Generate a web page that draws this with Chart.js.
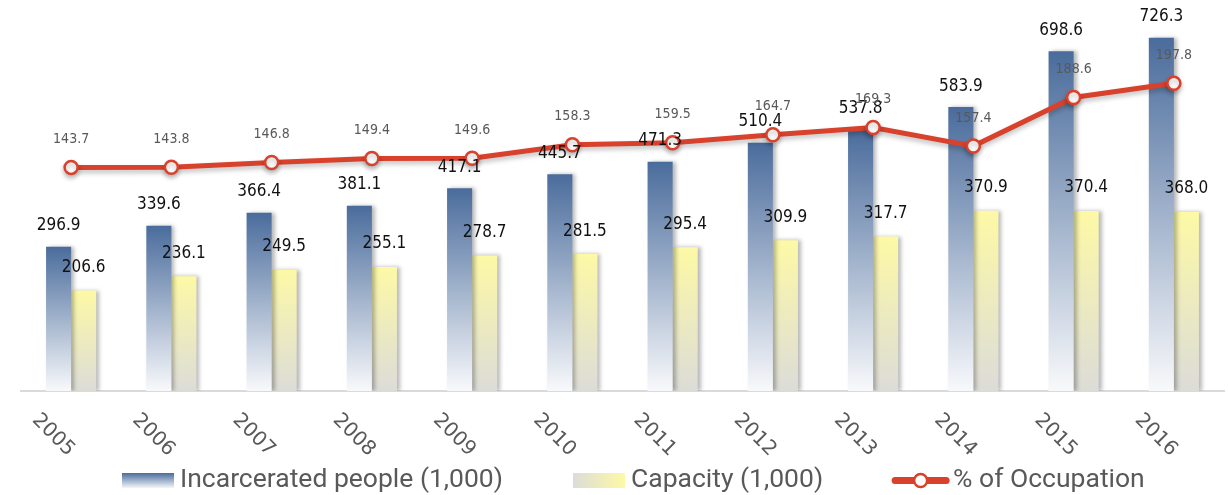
<!DOCTYPE html>
<html>
<head>
<meta charset="utf-8">
<script src="https://cdn.jsdelivr.net/npm/chart.js@4"></script>
<style>
  html, body { margin: 0; padding: 0; background: #fff; }
  #wrap { width: 1228px; height: 495px; }
</style>
</head>
<body>
<div id="wrap"><canvas id="prisonChart" width="1228" height="495"></canvas></div>
<script>
const years = ['2005', '2006', '2007', '2008', '2009', '2010', '2011', '2012', '2013', '2014', '2015', '2016'];
const incarcerated = [296.9, 339.6, 366.4, 381.1, 417.1, 445.7, 471.3, 510.4, 537.8, 583.9, 698.6, 726.3];
const capacity = [206.6, 236.1, 249.5, 255.1, 278.7, 281.5, 295.4, 309.9, 317.7, 370.9, 370.4, 368.0];
const occupation = [143.7, 143.8, 146.8, 149.4, 149.6, 158.3, 159.5, 164.7, 169.3, 157.4, 188.6, 197.8];

const seriesNames = ['Incarcerated people (1,000)', 'Capacity (1,000)', '% of Occupation'];

const lineRed = '#d8412c';
const textGrey = '#595959';
const labelFont = '"DejaVu Sans"';

// vertical gradient from the top of each bar down to the baseline
function barGradient(top, bottom) {
    return function(ctx) {
        const chart = ctx.chart;
        if (!chart.chartArea || ctx.raw === undefined) return top;
        const y = chart.scales.y;
        const y0 = y.getPixelForValue(ctx.raw);
        const y1 = y.getPixelForValue(0);
        const g = chart.ctx.createLinearGradient(0, y0, 0, y1);
        g.addColorStop(0, top);
        g.addColorStop(1, bottom);
        return g;
    };
}

const shadowPlugin = {
    id: 'shadows',
    beforeDatasetDraw(chart, args) {
        const ctx = chart.ctx;
        ctx.save();
        if (args.meta.type === 'line') {
            ctx.shadowColor = 'rgba(0,0,0,0.25)';
            ctx.shadowBlur = 5;
            ctx.shadowOffsetX = 0;
            ctx.shadowOffsetY = 3;
        } else {
            ctx.shadowColor = 'rgba(0,0,0,0.28)';
            ctx.shadowBlur = 4;
            ctx.shadowOffsetX = 3;
            ctx.shadowOffsetY = 0;
        }
    },
    afterDatasetDraw(chart) {
        chart.ctx.restore();
    }
};

const valueLabels = {
    id: 'valueLabels',
    afterDatasetsDraw(chart) {
        const ctx = chart.ctx;
        ctx.save();
        ctx.textAlign = 'center';
        ctx.textBaseline = 'middle';
        chart.data.datasets.forEach((ds, i) => {
            const meta = chart.getDatasetMeta(i);
            meta.data.forEach((el, j) => {
                const v = ds.data[j];
                if (meta.type === 'line') {
                    ctx.font = 'condensed 14px ' + labelFont;
                    ctx.fillStyle = textGrey;
                    ctx.fillText(v.toFixed(1), el.x, el.y - 28);
                } else {
                    ctx.font = 'condensed 17px ' + labelFont;
                    ctx.fillStyle = '#111';
                    ctx.fillText(v.toFixed(1), el.x, el.y - (i === 0 ? 21 : 23));
                }
            });
        });
        ctx.restore();
    }
};

// year labels slant down to the right, which the built-in rotation cannot do
const slantedYears = {
    id: 'slantedYears',
    afterDraw(chart) {
        const ctx = chart.ctx;
        const xs = chart.scales.x;
        ctx.save();
        ctx.font = '20px "DejaVu Sans"';
        ctx.fillStyle = textGrey;
        ctx.textAlign = 'right';
        ctx.textBaseline = 'middle';
        years.forEach((lab, i) => {
            const px = xs.getPixelForTick(i);
            ctx.save();
            ctx.translate(px, 453);
            ctx.rotate(Math.PI / 4);
            ctx.fillText(xs.getLabelForValue(i), 0, 0);
            ctx.restore();
        });
        ctx.restore();
    }
};

// hand drawn legend so the swatches and spacing follow the original
const bottomLegend = {
    id: 'bottomLegend',
    afterDraw(chart) {
        const ctx = chart.ctx;
        ctx.save();
        ctx.font = '26.5px Roboto';
        ctx.textBaseline = 'alphabetic';
        let x = 122;
        const top = 473, h = 15, w = 52;
        seriesNames.forEach((name, i) => {
            if (i === 0) {
                const g = ctx.createLinearGradient(0, top, 0, top + h);
                g.addColorStop(0, '#4a6c9c');
                g.addColorStop(1, '#f4f6fa');
                ctx.fillStyle = g;
                ctx.fillRect(x, top, w, h);
            } else if (i === 1) {
                const g = ctx.createLinearGradient(x, 0, x + w, 0);
                g.addColorStop(0, '#dcdcd8');
                g.addColorStop(1, '#fdf9a6');
                ctx.fillStyle = g;
                ctx.fillRect(x, top, w, h);
            } else {
                const cy = top + h / 2;
                ctx.strokeStyle = lineRed;
                ctx.lineWidth = 7;
                ctx.lineCap = 'round';
                ctx.beginPath();
                ctx.moveTo(x + 2, cy);
                ctx.lineTo(x + w + 1, cy);
                ctx.stroke();
                ctx.beginPath();
                ctx.arc(x + (w + 3) / 2, cy, 6.5, 0, Math.PI * 2);
                ctx.fillStyle = '#fff';
                ctx.fill();
                ctx.lineWidth = 2.5;
                ctx.stroke();
                x += 2;
            }
            x += w + 6;
            ctx.fillStyle = textGrey;
            ctx.fillText(name, x, 487);
            x += ctx.measureText(name).width + 70;
        });
        ctx.restore();
    }
};

new Chart(document.getElementById('prisonChart'), {
    type: 'bar',
    data: {
        labels: years,
        datasets: [
            {
                type: 'bar',
                label: seriesNames[0],
                data: incarcerated,
                backgroundColor: barGradient('#4a6c9c', '#f8f9fb'),
                yAxisID: 'y',
                order: 1,
                barPercentage: 1.0,
                categoryPercentage: 0.5
            },
            {
                type: 'bar',
                label: seriesNames[1],
                data: capacity,
                backgroundColor: barGradient('#fdf9a6', '#dcdcd8'),
                yAxisID: 'y',
                order: 2,
                barPercentage: 1.0,
                categoryPercentage: 0.5
            },
            {
                type: 'line',
                label: seriesNames[2],
                data: occupation,
                borderColor: lineRed,
                borderWidth: 5,
                pointRadius: 6.5,
                pointBorderWidth: 2.5,
                pointBackgroundColor: '#fff',
                pointBorderColor: lineRed,
                tension: 0,
                yAxisID: 'y1',
                order: 0
            }
        ]
    },
    options: {
        responsive: false,
        animation: false,
        layout: {
            autoPadding: false,
            padding: { top: 2, left: 21, right: 4, bottom: 0 }
        },
        scales: {
            x: {
                grid: { display: false },
                border: { color: '#dadada', width: 2 },
                ticks: { display: false },
                afterFit(scale) { scale.height = 104; }
            },
            y: {
                display: false,
                min: 0,
                max: 800
            },
            y1: {
                display: false,
                min: 0,
                max: 250
            }
        },
        plugins: {
            tooltip: { enabled: false },
            legend: { display: false }
        }
    },
    plugins: [shadowPlugin, valueLabels, slantedYears, bottomLegend]
});
</script>
</body>
</html>
